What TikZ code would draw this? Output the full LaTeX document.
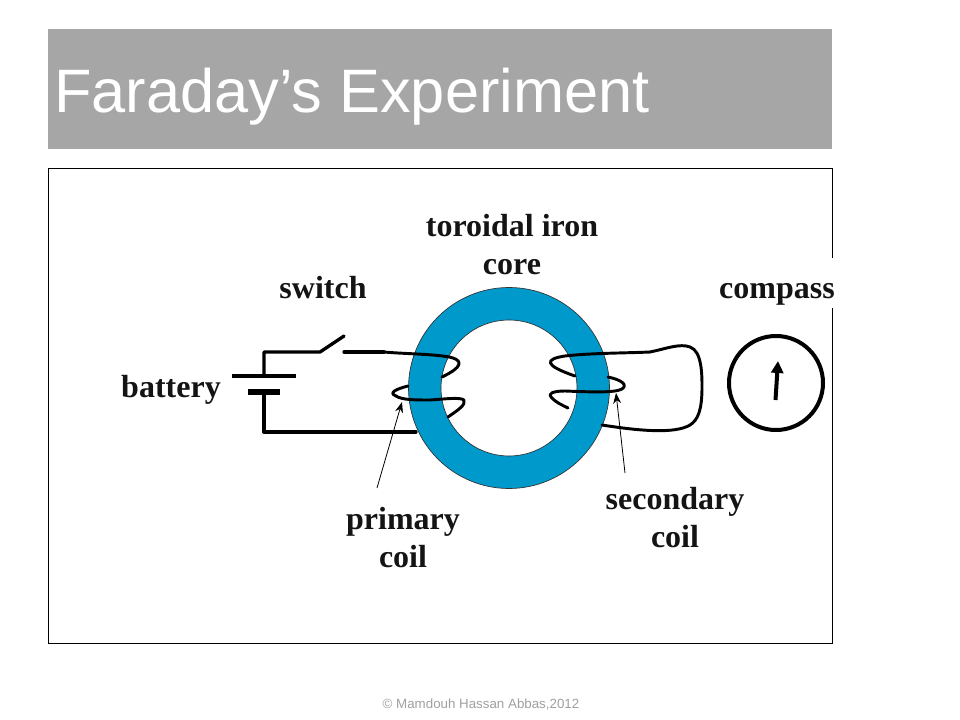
\documentclass[tikz,border=0pt]{standalone}
\usepackage{fontspec}
\setmainfont{Liberation Serif}
\newfontfamily\sansf{Liberation Sans}
\usetikzlibrary{arrows.meta}
\definecolor{headgray}{HTML}{A6A6A6}
\definecolor{coreblue}{HTML}{0099CC}
\definecolor{footgray}{HTML}{A0A0A0}
\tikzset{
  wire/.style={line width=2.5pt,line cap=round,line join=round,black},
  thinwire/.style={line width=2.2pt,line cap=round,line join=round,black},
  pointer/.style={line width=0.6pt,black,-{Stealth[length=8pt,width=6pt]}},
  lbl/.style={font=\fontsize{24}{28.5}\selectfont\bfseries,align=center,text=black!92,inner sep=0pt},
}
\begin{document}
\begin{tikzpicture}[x=0.75pt,y=-0.75pt]
\useasboundingbox (0,0) rectangle (960,720);
\fill[white] (0,0) rectangle (960,720);
% header
\fill[headgray] (48,29) rectangle (832,149);
\node[anchor=base west,inner sep=0pt,text=white,font=\sansf\fontsize{46}{54}\selectfont] (title) at (54,113) {Faraday’s Experiment};
% frame
\draw[line width=0.6pt] (48,168) rectangle (832,643);
\fill[white] (829,258) rectangle (836,308);
% torus
\fill[coreblue,even odd rule,draw=black!80,line width=0.5pt] (509,388) circle[radius=100.5] (509,388) circle[radius=68];
% circuit points
\coordinate (tl) at (264,352);
\coordinate (bl) at (264,432);
\coordinate (pa) at (264,376);
\coordinate (pb) at (264,392);
\coordinate (swa) at (320,352);
\coordinate (swb) at (344,336);
\coordinate (swc) at (344,352);
\coordinate (coilin) at (384,352);
\coordinate (coilout) at (416,432);
% battery
\draw[line width=3pt] (232,376) -- (296,376);
\draw[line width=5pt] (248,392) -- (280,392);
\draw[wire] (pa) -- (tl) -- (swa) -- (swb);
\draw[wire] (swc) -- (coilin);
\draw[wire] (pb) -- (bl) -- (coilout);
% primary coil
\draw[thinwire] (coilin) .. controls (405,354) and (440,354) .. (453,358) .. controls (462,361) and (463,367) .. (442,377);
\draw[thinwire] (408,386) .. controls (396,389) and (388,393) .. (396,396) .. controls (402,400) and (415,400) .. (430,400) .. controls (445,399) and (460,397) .. (464,400) .. controls (466,405) and (458,410) .. (448,417);
% secondary coil
\draw[thinwire] (650,352) .. controls (630,353) and (590,353) .. (565,356) .. controls (545,359) and (543,365) .. (575,376);
\draw[thinwire] (608,377) .. controls (622,380) and (628,385) .. (622,389) .. controls (615,393) and (590,392) .. (565,391) .. controls (552,391) and (548,394) .. (551,397) .. controls (555,402) and (562,405) .. (568,408);
\draw[thinwire] (650,352) .. controls (665,349) and (680,343) .. (690,347) .. controls (702,351) and (702,375) .. (702,387) .. controls (702,410) and (698,420) .. (690,425) .. controls (675,434) and (640,431) .. (602,425);
% compass
\node[circle,draw,line width=3pt,inner sep=0pt,minimum size=70.5pt] (comp) at (776,383) {};
\coordinate (needlea) at (775.5,400);
\coordinate (needleb) at (778,361);
\draw[line width=3pt,-{Stealth[length=9pt,width=9pt,inset=0pt]}] (needlea) -- (needleb);
% pointers
\coordinate (pt1) at (377,488);
\coordinate (pt1h) at (402,402);
\coordinate (pt2) at (625,473);
\coordinate (pt2h) at (616,393);
\draw[pointer] (pt1) -- (pt1h);
\draw[pointer] (pt2) -- (pt2h);
% labels
\node[lbl] (ltor) at (512,244.5) {toroidal iron\\core};
\node[lbl,anchor=base] (lsw) at (323,298) {switch};
\node[lbl,anchor=base] (lcom) at (777,298) {compass};
\node[lbl,anchor=base] (lbat) at (171,397) {battery};
\node[lbl] (lpri) at (403,537.5) {primary\\coil};
\node[lbl] (lsec) at (675,518) {secondary\\coil};
% footer
\node[text=footgray,inner sep=0pt,font=\sansf\fontsize{10}{12}\selectfont] (foot) at (481,705) {© Mamdouh Hassan Abbas,2012};
\end{tikzpicture}
\end{document}
